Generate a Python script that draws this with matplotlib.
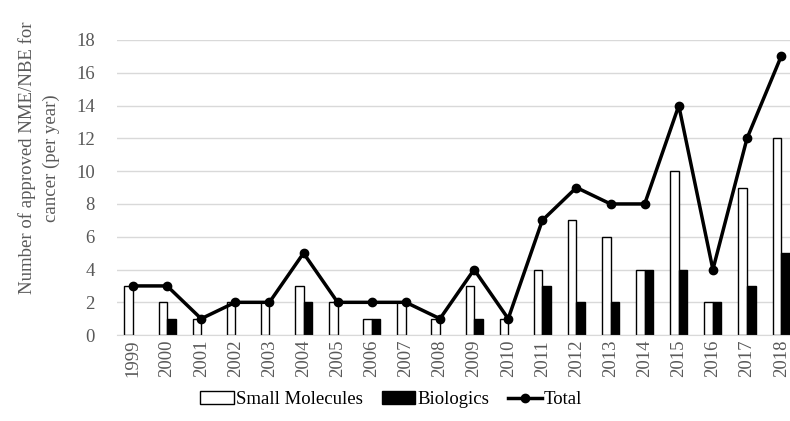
import numpy as np
import matplotlib
matplotlib.use('Agg')
import matplotlib.pyplot as plt
from matplotlib.patches import Patch

years = [str(y) for y in range(1999, 2019)]
small = [3, 2, 1, 2, 2, 3, 2, 1, 2, 1, 3, 1, 4, 7, 6, 4, 10, 2, 9, 12]
bio = [0, 1, 0, 0, 0, 2, 0, 1, 0, 0, 1, 0, 3, 2, 2, 4, 4, 2, 3, 5]
total = [3, 3, 1, 2, 2, 5, 2, 2, 2, 1, 4, 1, 7, 9, 8, 8, 14, 4, 12, 17]

plt.rcParams['font.family'] = ['Liberation Serif', 'DejaVu Serif']
grey = '#595959'

fig = plt.figure(figsize=(7.9, 4.21), dpi=100)
ax = fig.add_axes([0.148, 0.204, 0.852, 0.701])

x = np.arange(len(years))
w = 0.25
ax.bar(x - w / 2, small, w, color='white', edgecolor='black', linewidth=1.0, zorder=2)
hb = ax.bar(x + w / 2, bio, w, color='black', edgecolor='black', linewidth=1.0, zorder=2)
# hide the flat outline of empty bars
for r, v in zip(hb.patches, bio):
    if v == 0:
        r.set_visible(False)
hl, = ax.plot(x, total, color='black', lw=2.5, marker='o', ms=6,
              zorder=3, clip_on=False)

ax.set_xlim(-0.47, 19.26)
ax.set_ylim(0, 18)
ax.set_yticks(range(0, 19, 2))
ax.set_xticks(x)
ax.set_xticklabels(years, rotation=90)
ax.yaxis.grid(True, color='#d9d9d9', lw=1)
ax.set_axisbelow(True)
for s in ax.spines.values():
    s.set_visible(False)
ax.spines['bottom'].set_visible(True)
ax.spines['bottom'].set_color('#d9d9d9')
ax.tick_params(axis='both', length=0, colors=grey, labelsize=13.5)
ax.tick_params(axis='y', pad=16)
ax.set_ylabel('Number of approved NME/NBE for\ncancer (per year)', fontsize=13.5,
              color=grey, multialignment='center', linespacing=1.45)
ax.yaxis.set_label_coords(-0.085, 0.6)

handles = [Patch(facecolor='white', edgecolor='black', lw=1.0),
           Patch(facecolor='black', edgecolor='black', lw=1.0), hl]
fig.legend(handles, ['Small Molecules', 'Biologics', 'Total'],
           loc='lower center', bbox_to_anchor=(0.495, -0.01), ncol=3, frameon=False,
           fontsize=13.5, handlelength=1.8, handletextpad=0.1, columnspacing=1.0)

fig.savefig('out.png', dpi=100)
